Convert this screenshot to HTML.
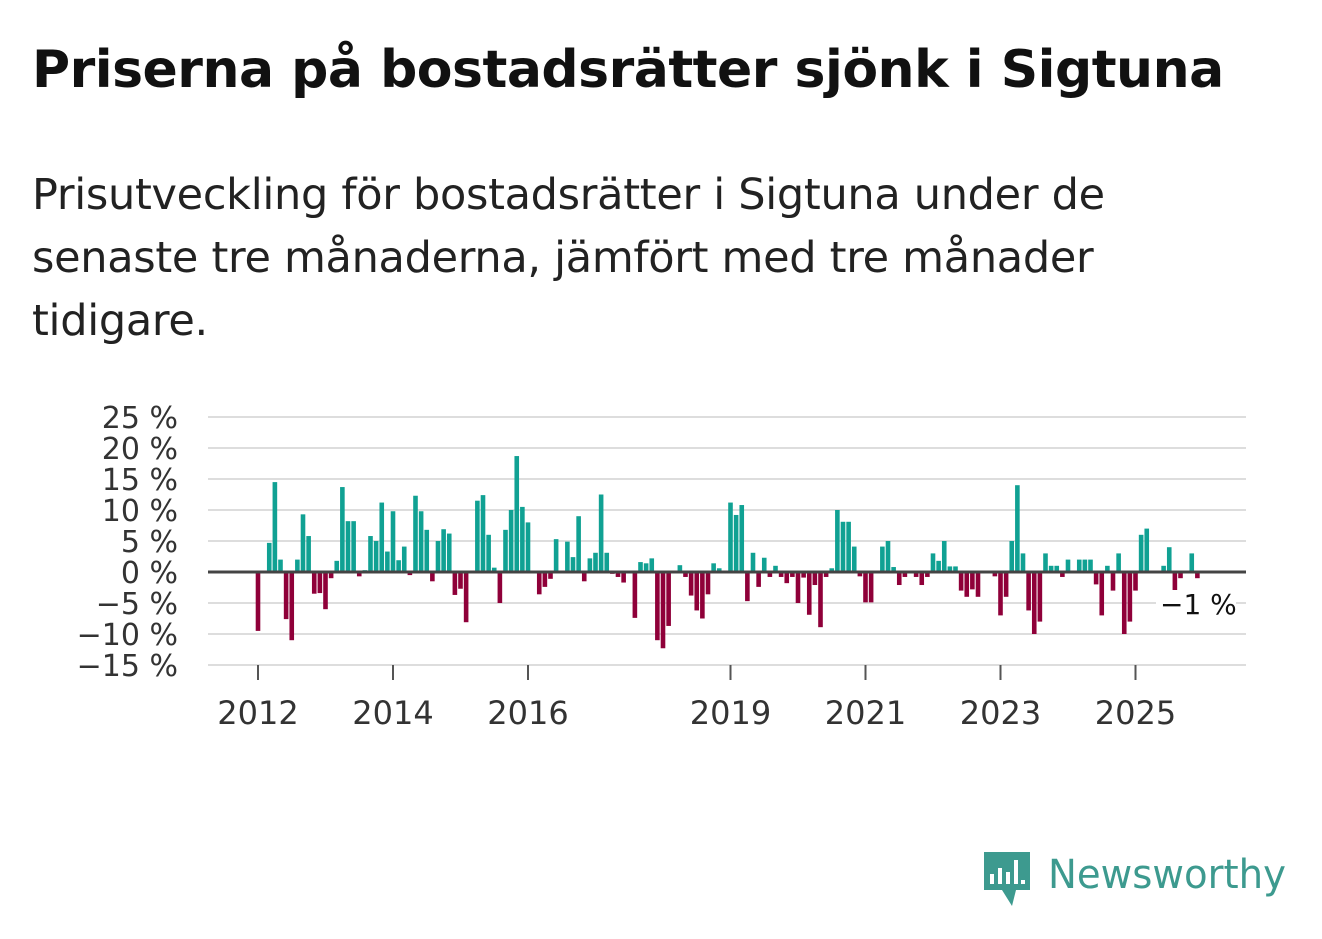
<!DOCTYPE html>
<html><head><meta charset="utf-8"><style>
body{margin:0;background:#fff;width:1322px;height:939px;overflow:hidden;font-family:"Liberation Sans","DejaVu Sans",sans-serif;}
#title{position:absolute;left:32px;top:40px;font-size:52px;font-weight:bold;color:#111;margin:0;font-family:"DejaVu Sans",sans-serif;letter-spacing:-0.5px}
#sub{position:absolute;left:32px;top:164px;width:1200px;font-size:43px;line-height:63px;color:#222;margin:0;font-family:"DejaVu Sans",sans-serif;letter-spacing:-0.3px}
svg{position:absolute;left:0;top:0}
</style></head><body>
<h1 id="title">Priserna på bostadsrätter sjönk i Sigtuna</h1>
<p id="sub">Prisutveckling för bostadsrätter i Sigtuna under de<br>senaste tre månaderna, jämfört med tre månader<br>tidigare.</p>
<svg id="chart" width="1322" height="939"></svg>
<script>
const yTicks=[25,20,15,10,5,0,-5,-10,-15];
const xTickYears=[2012,2014,2016,2019,2021,2023,2025];
const startYear=2012,startMonth=0;
const values=[-9.5,0,4.7,14.5,2,-7.6,-11,2,9.3,5.8,-3.5,-3.4,-6,-1,1.8,13.7,8.2,8.2,-0.7,0.3,5.8,5,11.2,3.3,9.8,1.9,4.1,-0.5,12.3,9.8,6.8,-1.5,5,6.9,6.2,-3.7,-2.7,-8.1,0,11.5,12.4,6,0.7,-5,6.8,10,18.7,10.5,8,0,-3.6,-2.4,-1.1,5.3,0,4.9,2.4,9,-1.5,2.2,3.1,12.5,3.1,-0.3,-0.8,-1.7,0,-7.4,1.6,1.4,2.2,-11,-12.3,-8.7,0,1.1,-0.8,-3.8,-6.2,-7.5,-3.6,1.4,0.6,0,11.2,9.2,10.8,-4.7,3.1,-2.4,2.3,-0.8,1,-0.8,-1.8,-0.8,-5,-0.9,-6.9,-2.1,-8.9,-0.8,0.6,10,8.1,8.1,4.1,-0.7,-4.9,-4.9,0,4.1,5,0.8,-2.1,-0.8,0,-0.8,-2.1,-0.8,3,1.8,5,0.9,0.9,-3,-4,-2.8,-4,0,0,-0.7,-7,-4,5,14,3,-6.2,-10,-8,3,1,1,-0.8,2,0,2,2,2,-2,-7,1,-3,3,-10,-8,-3,6,7,0,0,1,4,-4,-1,0,3,-1];
const lastLabel="−1 %";
const svg=document.getElementById('chart');const NS='http://www.w3.org/2000/svg';
const X0=208,X1=1246,Y0=572,PPU=6.2;
function y(v){return Y0-v*PPU;}
function xm(i){return 258+i*5.625;}
function xYear(yr){return xm((yr-startYear)*12-startMonth);}
function mk(t,a){const e=document.createElementNS(NS,t);for(const k in a)e.setAttribute(k,a[k]);svg.appendChild(e);return e;}
yTicks.forEach(v=>{
 const l=mk('line',{x1:X0,x2:X1,y1:y(v),y2:y(v),stroke:'#ddd','stroke-width':2});
 
 
 const t=mk('text',{x:178,y:y(v)+11,'text-anchor':'end','font-size':30,fill:'#333','font-family':'DejaVu Sans, sans-serif'});
 t.textContent=(v<0?'−'+(-v):v)+' %';
 
 
});
values.forEach((v,i)=>{
 const r=mk('rect',{x:xm(i)-2.3,width:4.6,y:v>=0?y(v):Y0,height:Math.abs(v)*PPU,fill:v>=0?'#10a193':'#8f0039'});
 
 
});
const z=mk('line',{x1:X0,x2:X1,y1:Y0,y2:Y0,stroke:'#444','stroke-width':3});


xTickYears.forEach(yr=>{
 const xx=xYear(yr);
 const l=mk('line',{x1:xx,x2:xx,y1:665,y2:680,stroke:'#555','stroke-width':2});
 
 
 const t=mk('text',{x:xx,y:724,'text-anchor':'middle','font-size':32,fill:'#333','font-family':'DejaVu Sans, sans-serif'});
 t.textContent=yr;
 
 
});
const bg=mk('rect',{x:1156,y:590,width:80,height:30,fill:'#fff'});


const lt=mk('text',{x:1160,y:614,'font-size':28,fill:'#111','font-family':'DejaVu Sans, sans-serif'});
lt.textContent=lastLabel;


</script>
<svg width="1322" height="939" style="pointer-events:none">
<path d="M984 852 h46 v38 h-14 l-4 16 l-10 -16 h-18 z" fill="#3d9a8f"/>
<rect x="990" y="874" width="4" height="10" fill="#fff"/><rect x="998" y="868" width="4" height="16" fill="#fff"/><rect x="1006" y="872" width="4" height="12" fill="#fff"/><rect x="1014" y="860" width="4" height="24" fill="#fff"/><rect x="1021" y="880" width="4" height="4" fill="#fff"/>
<text x="1048" y="888" font-size="40" fill="#3d9a8f" font-family="DejaVu Sans, sans-serif" textLength="238" lengthAdjust="spacingAndGlyphs">Newsworthy</text>
</svg>
</body></html>
